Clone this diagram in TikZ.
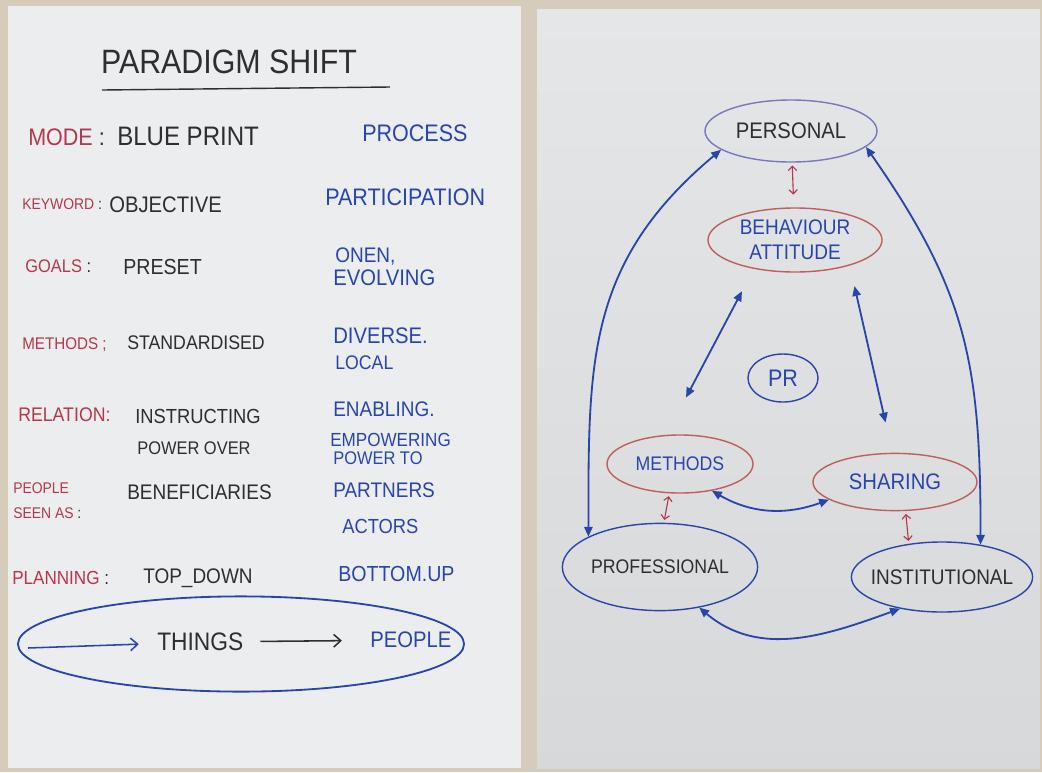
\documentclass[tikz,border=0pt]{standalone}
\usepackage{fontspec}
\setmainfont{Liberation Sans}[FakeStretch=0.9]
\usetikzlibrary{shapes.geometric,arrows.meta}

\definecolor{wall}{RGB}{214,204,188}
\definecolor{paperl}{RGB}{236,237,239}
\definecolor{paperr}{RGB}{229,230,232}
\definecolor{inkblack}{RGB}{45,45,50}
\definecolor{inkblue}{RGB}{40,70,170}
\definecolor{inkred}{RGB}{180,55,75}
\definecolor{ringred}{RGB}{190,95,95}
\definecolor{ringpale}{RGB}{120,120,190}

\newcommand{\fsz}[1]{\fontsize{#1}{#1}\selectfont}

\tikzset{
  oldcol/.style={text=inkblack, inner sep=0pt, anchor=west},
  newcol/.style={text=inkblue, inner sep=0pt, anchor=west},
  keycol/.style={text=inkred, inner sep=0pt, anchor=west},
  ring/.style={ellipse, draw, line width=1pt, inner xsep=-8pt, inner ysep=0pt},
  link/.style={draw=inkblue, line width=1.3pt, <->, >={Triangle[length=7pt,width=6pt]}},
  nudge/.style={draw=inkred, line width=0.8pt, <->, >={Straight Barb[length=3pt,width=6pt]}},
  flow/.style={line width=1.1pt, ->, >={Straight Barb[length=5pt,width=9pt]}}
}

\begin{document}
\begin{tikzpicture}[x=0.025cm, y=-0.025cm]
    % Fondo y hojas
    \fill[wall] (0,0) rectangle (1042,772);
    \useasboundingbox (0,0) rectangle (1042,772);
    \fill[paperl] (8,6) rectangle (521,768);
    \shade[top color=paperr, bottom color=paperr!94!black] (537,9) rectangle (1040,768);

    % Titulo
    \node[oldcol, anchor=center, font=\fsz{24}] (title) at (229,62) {PARADIGM SHIFT};
    \draw[inkblack, line width=1pt] (102,90) -- (390,87);

    % Filas
    \node[keycol, font=\fsz{17}] (mode) at (28,137) {MODE \textcolor{inkblack}{:}};
    \node[oldcol, font=\fsz{19}] (blueprint) at (117,136) {BLUE PRINT};
    \node[newcol, font=\fsz{17}] (process) at (362,133) {PROCESS};

    \node[keycol, font=\fsz{11}] (keyword) at (22,204) {KEYWORD \textcolor{inkblack}{:}};
    \node[oldcol, font=\fsz{16}] (objective) at (109,205) {OBJECTIVE};
    \node[newcol, font=\fsz{17}] (participation) at (325,197) {PARTICIPATION};

    \node[keycol, font=\fsz{13}] (goals) at (25,266) {GOALS \textcolor{inkblack}{:}};
    \node[oldcol, font=\fsz{15.5}] (preset) at (123,267) {PRESET};
    \node[newcol, font=\fsz{15}] (onen) at (335,256) {ONEN,};
    \node[newcol, font=\fsz{16}] (evolving) at (333,278) {EVOLVING};

    \node[keycol, font=\fsz{12}] (methodskey) at (22,345) {METHODS ;};
    \node[oldcol, font=\fsz{14}] (standardised) at (127,343) {STANDARDISED};
    \node[newcol, font=\fsz{16}] (diverse) at (333,336) {DIVERSE.};
    \node[newcol, font=\fsz{14}] (local) at (335,363) {LOCAL};

    \node[keycol, font=\fsz{14}] (relation) at (18,415) {RELATION:};
    \node[oldcol, font=\fsz{14.5}] (instructing) at (135,416) {INSTRUCTING};
    \node[oldcol, font=\fsz{13}] (powerover) at (137,448) {POWER OVER};
    \node[newcol, font=\fsz{15}] (enabling) at (333,409) {ENABLING.};
    \node[newcol, font=\fsz{13.5}] (empowering) at (330,440) {EMPOWERING};
    \node[newcol, font=\fsz{13}] (powerto) at (333,458) {POWER TO};

    \node[keycol, font=\fsz{11}] (peoplekey) at (13,488) {PEOPLE};
    \node[keycol, font=\fsz{11}] (seenas) at (13,513) {SEEN AS \textcolor{inkblack}{:}};
    \node[oldcol, font=\fsz{15}] (beneficiaries) at (127,492) {BENEFICIARIES};
    \node[newcol, font=\fsz{15}] (partners) at (333,490) {PARTNERS};
    \node[newcol, font=\fsz{14.5}] (actors) at (342,526) {ACTORS};

    \node[keycol, font=\fsz{13.5}] (planning) at (12,578) {PLANNING \textcolor{inkblack}{:}};
    \node[oldcol, font=\fsz{15}] (topdown) at (143,578) {TOP\_DOWN};
    \node[newcol, font=\fsz{15.5}] (bottomup) at (338,574) {BOTTOM.UP};

    % Things -> people
    \node[draw=inkblue, line width=1.3pt, ellipse, minimum width=11.15cm, minimum height=2.38cm] (frame) at (241,644) {};
    \node[oldcol, font=\fsz{18}] (things) at (157,642) {THINGS};
    \node[newcol, font=\fsz{16}] (peopleend) at (370,640) {PEOPLE};
    \coordinate (tail) at (28,648);
    \draw[flow, inkblue, shorten >=13pt] (tail) -- (things);
    \draw[flow, inkblack, shorten <=12pt, shorten >=20pt] (things) -- (peopleend);

    % Hoja derecha: elipses
    \node[ring, draw=ringpale, text=inkblack, font=\fsz{16}, minimum width=4.3cm, minimum height=1.55cm] (personal) at (791,131) {PERSONAL};
    \node[ring, draw=ringred, text=inkblue, font=\fsz{15}, align=center, minimum width=4.35cm, minimum height=1.6cm] (behaviour) at (795,240) {BEHAVIOUR\\[3pt]ATTITUDE};
    \node[ring, draw=inkblue, text=inkblue, font=\fsz{17}, minimum width=1.75cm, minimum height=1.2cm] (pr) at (783,378) {PR};
    \node[ring, draw=ringred, text=inkblue, font=\fsz{14}, minimum width=3.65cm, minimum height=1.45cm] (methods) at (680,464) {METHODS};
    \node[ring, draw=ringred, text=inkblue, font=\fsz{16}, minimum width=4.1cm, minimum height=1.43cm] (sharing) at (895,482) {SHARING};
    \node[ring, draw=inkblue, text=inkblack, font=\fsz{14}, minimum width=4.88cm, minimum height=2.18cm] (professional) at (660,567) {PROFESSIONAL};
    \node[ring, draw=inkblue, text=inkblack, font=\fsz{15}, minimum width=4.53cm, minimum height=1.75cm] (institutional) at (942,577) {INSTITUTIONAL};

    % Flechas rojas
    \draw[nudge, shorten <=2pt, shorten >=9pt] (personal) -- (behaviour);
    \draw[nudge, shorten <=2pt, shorten >=2pt] (methods.250) -- (professional.85);
    \draw[nudge, shorten <=2pt, shorten >=2pt] (sharing.-70) -- (institutional.135);

    % Flechas azules
    \draw[link] (personal.195) to[out=220, in=90, looseness=1.1] (professional.157);
    \draw[link] (personal.-12) to[out=-55, in=90, looseness=1.1] (institutional.40);
    \draw[link, shorten <=18pt, shorten >=30pt] (behaviour.215) -- (methods.115);
    \draw[link, shorten <=15pt, shorten >=22pt] (behaviour.-25) -- (sharing.95);
    \draw[link] (methods.-40) to[out=-30, in=200] (sharing.195);
    \draw[link] (professional.-46) to[out=-40, in=200] (institutional.217);
\end{tikzpicture}
\end{document}
